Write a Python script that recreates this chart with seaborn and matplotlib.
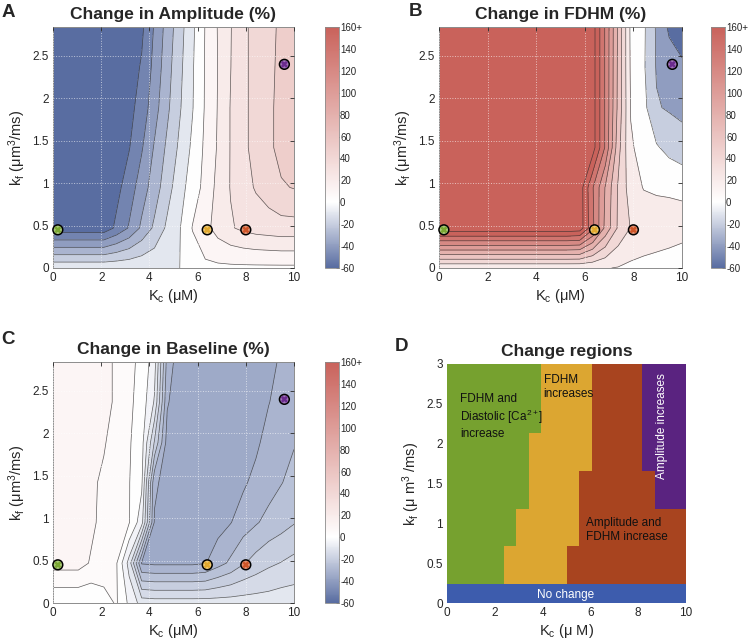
import numpy as np
import matplotlib
matplotlib.use("Agg")
import matplotlib.pyplot as plt
from matplotlib.colors import LinearSegmentedColormap, ListedColormap, Normalize, to_rgb
import seaborn as sns

sns.set_style("white")
plt.rcParams['font.family'] = ['Liberation Sans', 'DejaVu Sans']
plt.rcParams['mathtext.fontset'] = 'custom'
plt.rcParams['mathtext.rm'] = 'Liberation Sans'
plt.rcParams['mathtext.it'] = 'Liberation Sans:italic'
plt.rcParams['mathtext.default'] = 'regular'

# grid of the parameter sweep
kc = [0, 0.53, 1.05, 1.58, 2.11, 2.63, 3.16, 3.68, 4.21, 4.74,
      5.26, 5.79, 6.32, 6.84, 7.37, 7.89, 8.42, 8.95, 9.47, 10]
kf = [0, 0.47, 0.95, 1.42, 1.89, 2.37, 2.84]

# % change in amplitude (rows = kf, cols = Kc)
amplitude = [
    [-12, -12, -12, -12, -12, -12, -12, -12, -12, -11.5, -10, -6, -2, -2, -2, -2, -2, -2, -2, -2],
    [-66, -66, -66, -66, -66, -58, -49, -38, -28, -18, -10.5, 0.5, 7, 14, 19, 22, 24, 25, 26, 26],
    [-66, -66, -66, -66, -66, -63, -55, -45, -35, -24, -14, -5, 3, 13, 20.5, 26, 31, 35, 39, 40.5],
    [-66, -66, -66, -66, -66, -66, -60.5, -51, -39, -28, -18, -8, 2, 11, 20.5, 28, 33, 38, 43, 45],
    [-66, -66, -66, -66, -66, -66, -63, -56, -44, -32, -21, -10.5, 1, 10.5, 20.5, 28, 33, 38, 43, 45],
    [-66, -66, -66, -66, -66, -66, -65, -59, -47, -34, -22.5, -11, 0.8, 10.2, 19.8, 28, 33, 37.5, 42.5, 45],
    [-66, -66, -66, -66, -66, -66, -66, -62, -49, -36, -24, -12, 0.5, 10.5, 19.5, 28, 33, 37, 42, 45],
]

# % change in FDHM
fdhm = [
    [2, 2, 2, 2, 2, 2, 2, 2, 2, 2, 2, 2, 2, 1, -1, -4, -6, -8, -9, -10],
    [175, 175, 175, 175, 175, 175, 175, 175, 175, 175, 175, 172, 125, 75, 37, 19, 14, 12, 9, 6],
    [175, 175, 175, 175, 175, 175, 175, 175, 175, 175, 175, 172, 122, 79, 38, 10, -1, -3, -3, -3],
    [175, 175, 175, 175, 175, 175, 175, 175, 175, 175, 175, 177, 170, 118, 48, 2, -6, -18, -26, -33],
    [175, 175, 175, 175, 175, 175, 175, 175, 175, 175, 175, 177, 170, 118, 55, -1, -14, -38.5, -42, -44],
    [175, 175, 175, 175, 175, 175, 175, 175, 175, 175, 175, 177, 170, 118, 56, -3, -17.5, -41.5, -50, -57],
    [175, 175, 175, 175, 175, 175, 175, 175, 175, 175, 175, 177, 170, 118, 57, -4, -16.6, -42.4, -63.5, -70],
]

# % change in baseline
baseline = [
    [-4.5, -4.5, -4.5, -4.5, -2, 0.5, -6, -12, -12.5, -12.5, -12.5, -12.5, -12.5, -12.5, -12.5, -12.5, -12.5, -12.5, -12, -12],
    [7, 7, 7, 4.5, 3, 0.5, -12, -35.5, -36, -36, -36, -36, -35.3, -32, -29, -25.5, -23, -21, -19.8, -18.5],
    [8, 8, 8, 6, 3.5, 1.5, 0.3, -8, -35.5, -37, -38, -38, -37.5, -37, -35.2, -32.5, -30.5, -28.5, -27, -25.3],
    [8, 8, 8, 6, 4, 2, 0.2, -4, -34, -37, -38, -38, -38, -38, -37, -35.8, -33.5, -32, -30.2, -28.5],
    [8, 8, 8, 8, 5.5, 2.5, 0.5, -3, -20.5, -37, -38, -38, -38, -38, -38, -37.5, -36, -33, -31.5, -30.3],
    [8, 8, 8, 8, 7, 4, 1, -2, -10.5, -34.5, -38, -38, -38, -38, -38, -37.5, -37, -35.2, -33, -31.5],
    [8, 8, 8, 8, 7, 4, 1, -1, -8, -32, -38, -38, -38, -38, -38, -38, -37.5, -37, -34, -32],
]

# region codes: 0 no change, 1 FDHM+diastolic, 2 FDHM, 3 amplitude+FDHM, 4 amplitude
regions = [
    [0, 0, 0, 0, 0, 0, 0, 0, 0, 0, 0, 0, 0, 0, 0, 0, 0, 0, 0, 0],
    [1, 1, 1, 1, 1, 2, 2, 2, 2, 2, 3, 3, 3, 3, 3, 3, 3, 3, 3, 3],
    [1, 1, 1, 1, 1, 1, 2, 2, 2, 2, 2, 3, 3, 3, 3, 3, 3, 3, 3, 3],
    [1, 1, 1, 1, 1, 1, 1, 2, 2, 2, 2, 3, 3, 3, 3, 3, 3, 4, 4, 4],
    [1, 1, 1, 1, 1, 1, 1, 2, 2, 2, 2, 2, 3, 3, 3, 3, 4, 4, 4, 4],
    [1, 1, 1, 1, 1, 1, 1, 1, 2, 2, 2, 2, 3, 3, 3, 3, 4, 4, 4, 4],
    [1, 1, 1, 1, 1, 1, 1, 1, 2, 2, 2, 2, 3, 3, 3, 3, 4, 4, 4, 4],
]
region_colors = ['#3d5cad', '#76a12f', '#dca631', '#a8441f', '#5a2380']

# example parameter sets marked on the maps
marker_kc = [0.2, 6.4, 8.0, 9.6]
marker_kf = [0.45, 0.45, 0.45, 2.4]
marker_names = ['green', 'yellow', 'red', 'purple']
marker_colors = ['#7aa832', '#e2a92e', '#cf5528', '#6b2b8e']

cbar_ticks = [-60, -40, -20, 0, 20, 40, 60, 80, 100, 120, 140, 160]
cbar_labels = ['-60', '-40', '-20', '0', '20', '40', '60', '80', '100', '120', '140', '160+']

cmap = LinearSegmentedColormap.from_list(
    'change', [(0, '#596da1'), (60 / 220, '#ffffff'), (1, '#c9625b')])
norm = Normalize(-60, 160)

W, H = 749, 643
fig = plt.figure(figsize=(W / 100, H / 100), dpi=100)


def rect(l, t, r, b):
    return [l / W, 1 - b / H, (r - l) / W, (b - t) / H]


def lighten(c, f):
    r, g, b = to_rgb(c)
    return (r + (1 - r) * f, g + (1 - g) * f, b + (1 - b) * f)


def style_axes(ax, ymax, yticks, ylabels):
    ax.set_xlim(0, 10)
    ax.set_ylim(0, ymax)
    ax.set_xticks([0, 2, 4, 6, 8, 10])
    ax.set_yticks(yticks)
    ax.set_yticklabels(ylabels)
    ax.tick_params(direction='in', top=True, right=True, length=3, width=0.6,
                   labelsize=8.5, colors='#262626', pad=3)
    for s in ax.spines.values():
        s.set_color('#8c8c8c')
        s.set_linewidth(0.7)


yt = [0, 0.5, 1, 1.5, 2, 2.5]
ytl = ['0', '0.5', '1', '1.5', '2', '2.5']


def field(axrect, cbrect, z, levels, title):
    ax = fig.add_axes(rect(*axrect))
    band_cols = [cmap(norm(l)) for l in levels[1:]]
    ax.contourf(kc, kf, z, levels=levels, colors=band_cols)
    ax.contour(kc, kf, z, levels=levels, colors='#2a2a2a', linewidths=0.5,
               alpha=0.75, negative_linestyles='solid')
    ax.grid(True, color='white', linestyle=':', linewidth=0.7, alpha=0.6)
    ax.set_axisbelow(False)
    style_axes(ax, 2.84, yt, ytl)
    sns.scatterplot(x=marker_kc, y=marker_kf, hue=marker_names, hue_order=marker_names,
                    palette=[lighten(c, 0.35) for c in marker_colors],
                    s=50, edgecolor='black', linewidth=1.1, legend=False, ax=ax,
                    zorder=5, clip_on=False)
    ax.scatter(marker_kc, marker_kf, marker='x', c=marker_colors, s=14,
               linewidths=1.8, zorder=6, clip_on=False)
    ax.set_title(title, fontsize=12.5, fontweight='bold', pad=6)
    ax.set_xlabel(r'K$_c$ (μM)', fontsize=10.5, labelpad=2)
    ax.set_ylabel(r'k$_f$ (μm$^3$/ms)', fontsize=10.5, labelpad=3)

    cax = fig.add_axes(rect(*cbrect))
    sm = plt.cm.ScalarMappable(norm=norm, cmap=cmap)
    cb = fig.colorbar(sm, cax=cax, ticks=cbar_ticks)
    cb.ax.set_yticklabels(cbar_labels)
    cb.ax.tick_params(direction='in', length=2.5, width=0.5, labelsize=7,
                      colors='#262626', pad=0.8)
    cb.outline.set_edgecolor('#8c8c8c')
    cb.outline.set_linewidth(0.6)
    return ax


field((53, 27, 294, 268), (325, 27, 339, 268), amplitude,
      np.arange(-70, 51, 10), 'Change in Amplitude (%)')
field((439, 27, 682, 268), (711, 27, 725, 268), fdhm,
      np.arange(-80, 181, 20), 'Change in FDHM (%)')
field((53, 362, 294, 603), (325, 362, 339, 603), baseline,
      np.arange(-40, 11, 5), 'Change in Baseline (%)')

# region map
axd = fig.add_axes(rect(447, 364, 686, 603))
axd.pcolormesh(kc, kf, regions, cmap=ListedColormap(region_colors),
               vmin=-0.5, vmax=4.5, shading='nearest')
style_axes(axd, 3, [0, 0.5, 1, 1.5, 2, 2.5, 3], ['0', '0.5', '1', '1.5', '2', '2.5', '3'])
axd.tick_params(length=0)
for s in axd.spines.values():
    s.set_visible(False)
axd.set_title('Change regions', fontsize=12.5, fontweight='bold', pad=6)
axd.set_xlabel(r'K$_c$ (μ M)', fontsize=10.5, labelpad=2)
axd.set_ylabel(r'k$_f$ (μ m$^3$ /ms)', fontsize=10.5, labelpad=3)

txt = dict(fontsize=8.5, linespacing=1.25)
axd.text(0.56, 2.64, 'FDHM and\nDiastolic [Ca$^{2+}$]\nincrease', ha='left', va='top',
         color='#111111', **txt)
axd.text(4.04, 2.88, 'FDHM\nincreases', ha='left', va='top', color='#111111', **txt)
axd.text(5.81, 1.08, 'Amplitude and\nFDHM increase', ha='left', va='top',
         color='#111111', **txt)
axd.text(8.98, 2.22, 'Amplitude increases', ha='center', va='center', rotation=90,
         color='white', **txt)
axd.text(4.94, 0.095, 'No change', ha='center', va='center', color='white', **txt)

for letter, x, y in [('A', 2, 4), ('B', 409, 3), ('C', 1, 331), ('D', 395, 338)]:
    fig.text(x / W, 1 - y / H, letter, fontsize=13.5, fontweight='bold',
             ha='left', va='top')

fig.savefig('out.png', dpi=100)
